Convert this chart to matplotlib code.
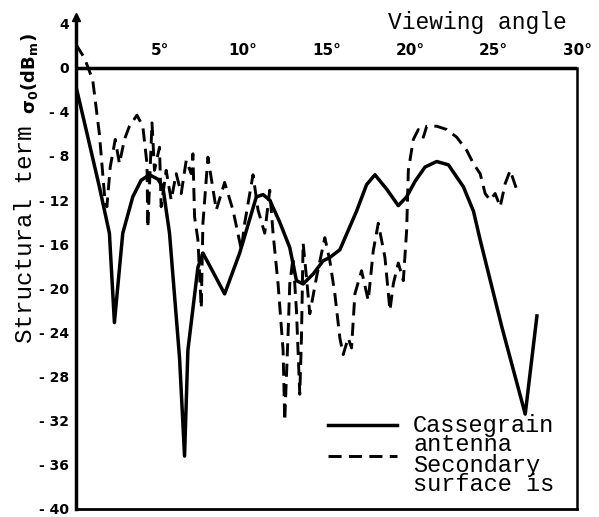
import matplotlib
matplotlib.use("Agg")
import matplotlib.pyplot as plt

# ---- data ----
cass_x = [0, 0.65, 1.4, 2.0, 2.3, 2.8, 3.4, 3.9, 4.4, 4.9, 5.2, 5.6, 6.2, 6.5, 6.7, 7.3, 7.6,
          8.2, 8.9, 9.8, 10.8, 11.2, 11.6, 12.2, 12.8, 13.2, 13.6, 14.2, 14.8, 15.2, 15.8, 16.8,
          17.4, 17.9, 18.6, 19.3, 19.8, 20.3, 20.9, 21.6, 22.3, 23.2, 23.8, 24.2, 25.5, 26.9, 27.6]
cass_y = [-1.7, -5.9, -10.8, -15.0, -23.1, -15.0, -11.7, -10.2, -9.7, -10.1, -10.8, -15.0, -26.3,
          -35.2, -25.6, -18.1, -16.8, -18.5, -20.5, -16.8, -11.7, -11.5, -12.0, -14.0, -16.3,
          -19.3, -19.6, -18.7, -17.5, -17.2, -16.5, -13.0, -10.6, -9.7, -11.0, -12.5, -11.7,
          -10.3, -9.0, -8.5, -8.8, -10.8, -13.0, -15.6, -23.5, -31.4, -22.5]

sec_x = [0, 0.5, 1.0, 1.4, 1.75, 1.85, 2.05, 2.35, 2.6, 2.9, 3.2, 3.65, 4.0, 4.25, 4.3, 4.55,
         4.7, 5.0, 5.1, 5.4, 5.7, 6.0, 6.3, 6.6, 6.9, 7.0, 7.1, 7.3, 7.5, 7.6, 7.9, 8.4, 8.9,
         9.4, 9.9, 10.1, 10.6, 10.9, 11.3, 11.6, 11.8, 12.1, 12.4, 12.5, 12.7, 12.8, 13.0, 13.2,
         13.4, 13.5, 13.6, 13.8, 14.0, 14.4, 14.9, 15.2, 15.5, 15.8, 16.0, 16.3, 16.5, 16.7,
         17.1, 17.5, 17.8, 18.1, 18.5, 18.8, 19.0, 19.3, 19.6, 19.8, 19.9, 20.2, 20.5, 20.8,
         21.0, 21.6, 22.2, 22.8, 23.4, 23.8, 24.2, 24.5, 24.8, 25.1, 25.4, 25.7, 26.0, 26.4]
sec_y = [2.1, 0.9, -1.1, -6.0, -12.3, -12.6, -9.0, -6.5, -8.7, -6.5, -5.3, -4.3, -5.3, -8.7,
         -14.5, -5.0, -9.3, -7.2, -12.6, -9.3, -12.0, -9.6, -11.4, -8.4, -9.6, -7.8, -13.5,
         -15.6, -21.8, -14.1, -8.1, -12.9, -10.4, -12.9, -16.5, -14.1, -9.7, -12.9, -15.0,
         -11.1, -15.0, -19.6, -25.6, -32.0, -24.1, -19.6, -17.2, -22.0, -29.6, -24.5, -15.9,
         -19.0, -22.3, -19.0, -15.4, -17.5, -20.5, -24.5, -26.0, -24.5, -25.4, -20.5, -18.4,
         -21.1, -16.6, -14.1, -17.2, -22.0, -19.6, -17.7, -19.3, -14.7, -9.3, -6.5, -5.6,
         -6.3, -5.3, -5.3, -5.6, -6.3, -7.5, -8.7, -9.6, -11.4, -12.0, -11.4, -12.6, -10.5,
         -9.3, -11.1]

x_ticks = [5, 10, 15, 20, 25, 30]
x_tick_labels = ["5°", "10°", "15°", "20°", "25°", "30°"]
y_ticks = [4, 0, -4, -8, -12, -16, -20, -24, -28, -32, -36, -40]
y_tick_labels = ["4", "0", "- 4", "- 8", "- 12", "- 16", "- 20", "- 24", "- 28", "- 32", "- 36", "- 40"]
legend_labels = ["Cassegrain\nantenna", "Secondary\nsurface is"]

mono = "Liberation Mono"
DASH = (0, (4.5, 2.5))

fig = plt.figure(figsize=(5.99, 5.17), dpi=100)
ax = fig.add_axes([76 / 599, 8 / 517, 501 / 599, 492 / 517])
ax.set_xlim(0, 30)
ax.set_ylim(-40, 4.6)

ax.plot(cass_x, cass_y, color="black", lw=2.5, solid_joinstyle="round")
ax.plot(sec_x, sec_y, color="black", lw=2.1, linestyle=DASH)

# frame
ax.spines["top"].set_visible(False)
ax.spines["left"].set_linewidth(2.5)
ax.spines["bottom"].set_linewidth(2.0)
ax.spines["right"].set_linewidth(1.8)
ax.spines["right"].set_bounds(-40, 0)
ax.axhline(0, color="black", lw=2.5)
ax.plot(0, 1, marker="^", color="black", markersize=6, transform=ax.transAxes, clip_on=False)

ax.set_xticks([])
ax.set_yticks(y_ticks)
ax.set_yticklabels(y_tick_labels, fontweight="bold", fontsize=10, family="DejaVu Sans")
ax.tick_params(axis="y", length=0, pad=5)

for xt, lab in zip(x_ticks, x_tick_labels):
    ax.text(xt, 1.6, lab, ha="center", va="center", fontsize=11, fontweight="bold",
            family="DejaVu Sans")

fig.text(477 / 599, 1 - 22 / 517, "Viewing angle", ha="center", va="center",
         fontsize=16.5, family=mono)
fig.text(26 / 599, 1 - 343 / 517, "Structural term", rotation=90,
         ha="center", va="bottom", fontsize=17.5, family=mono)
fig.text(29 / 599, 1 - 114 / 517, r"$\mathbf{\sigma_0(dB_m)}$", rotation=90,
         ha="center", va="bottom", fontsize=13)

# legend drawn manually
ax.plot([0.503, 0.641], [0.170, 0.170], color="black", lw=2.5, transform=ax.transAxes)
ax.plot([0.503, 0.641], [0.107, 0.107], color="black", lw=2.1, linestyle=DASH,
        transform=ax.transAxes)
ax.text(0.673, 0.193, legend_labels[0], transform=ax.transAxes, ha="left", va="top",
        fontsize=17, family=mono, linespacing=0.8)
ax.text(0.673, 0.112, legend_labels[1], transform=ax.transAxes, ha="left", va="top",
        fontsize=17, family=mono, linespacing=0.8)

fig.savefig("out.png", dpi=100)
